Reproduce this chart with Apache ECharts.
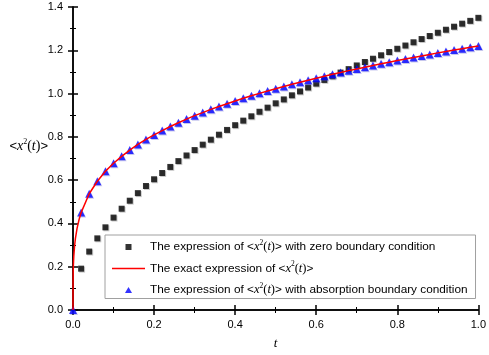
<!DOCTYPE html>
<html>
<head>
<meta charset="utf-8">
<script src="https://cdn.jsdelivr.net/npm/echarts@6/dist/echarts.min.js"></script>
<style>
  html, body { margin: 0; padding: 0; background: #fff; }
  #chart { width: 489px; height: 355px; }
</style>
</head>
<body>
<div id="chart"></div>
<script>
// t values of the markers
var tMarks = [0.02, 0.04, 0.06, 0.08, 0.10, 0.12, 0.14, 0.16, 0.18, 0.20,
  0.22, 0.24, 0.26, 0.28, 0.30, 0.32, 0.34, 0.36, 0.38, 0.40,
  0.42, 0.44, 0.46, 0.48, 0.50, 0.52, 0.54, 0.56, 0.58, 0.60,
  0.62, 0.64, 0.66, 0.68, 0.70, 0.72, 0.74, 0.76, 0.78, 0.80,
  0.82, 0.84, 0.86, 0.88, 0.90, 0.92, 0.94, 0.96, 0.98, 1.00];

// zero boundary condition (black squares)
var zeroVals = [0.191, 0.270, 0.331, 0.382, 0.427, 0.468, 0.505, 0.540, 0.573, 0.604,
  0.633, 0.661, 0.688, 0.714, 0.739, 0.764, 0.787, 0.810, 0.832, 0.854,
  0.875, 0.895, 0.916, 0.935, 0.955, 0.973, 0.992, 1.010, 1.028, 1.046,
  1.063, 1.080, 1.097, 1.113, 1.130, 1.146, 1.161, 1.177, 1.192, 1.207,
  1.222, 1.237, 1.252, 1.266, 1.281, 1.295, 1.309, 1.323, 1.336, 1.350];

// absorption boundary condition (blue triangles)
var absorbVals = [0.450, 0.537, 0.595, 0.641, 0.678, 0.710, 0.739, 0.765, 0.788, 0.809,
  0.829, 0.848, 0.865, 0.882, 0.898, 0.912, 0.927, 0.940, 0.953, 0.966,
  0.978, 0.990, 1.001, 1.012, 1.022, 1.033, 1.043, 1.052, 1.062, 1.071,
  1.080, 1.089, 1.097, 1.106, 1.114, 1.122, 1.130, 1.138, 1.145, 1.153,
  1.160, 1.167, 1.174, 1.181, 1.188, 1.194, 1.201, 1.207, 1.214, 1.220];

// exact expression (red line), extra points near t = 0
var tExactHead = [0, 0.0001, 0.0005, 0.001, 0.002, 0.004, 0.006, 0.01, 0.015];
var exactHead = [0, 0.117, 0.176, 0.210, 0.250, 0.298, 0.331, 0.377, 0.418];

var nameZero = 'zero';
var nameExact = 'exact';
var nameAbsorb = 'absorb';

var legendText = {
  zero: '{n|The expression of <}{i|x}{s|2}{p|(}{i|t}{p|)}{n|> with zero boundary condition}',
  exact: '{n|The exact expression of <}{i|x}{s|2}{p|(}{i|t}{p|)}{n|>}',
  absorb: '{n|The expression of <}{i|x}{s|2}{p|(}{i|t}{p|)}{n|> with absorption boundary condition}'
};

var zeroData = tMarks.map(function (t, i) { return [t, zeroVals[i]]; });
var absorbData = [[0, 0]].concat(tMarks.map(function (t, i) { return [t, absorbVals[i]]; }));
var exactData = tExactHead.map(function (t, i) { return [t, exactHead[i]]; })
  .concat(tMarks.map(function (t, i) { return [t, absorbVals[i]]; }));

var richText = {
  n: { fontFamily: 'Liberation Sans', fontSize: 11.8, color: '#000' },
  i: { fontFamily: 'Liberation Serif', fontStyle: 'italic', fontSize: 12.5, color: '#000' },
  p: { fontFamily: 'Liberation Serif', fontSize: 12.5, color: '#000' },
  s: { fontFamily: 'Liberation Serif', fontSize: 7.5, color: '#000', padding: [0, 0, 8, 0] }
};
var richName = {
  n: { fontFamily: 'Liberation Sans', fontSize: 13, color: '#000' },
  i: { fontFamily: 'Liberation Serif', fontStyle: 'italic', fontSize: 14, color: '#000' },
  p: { fontFamily: 'Liberation Serif', fontSize: 14, color: '#000' },
  s: { fontFamily: 'Liberation Serif', fontSize: 8, color: '#000', padding: [0, 0, 9, 0] }
};

var chart = echarts.init(document.getElementById('chart'));

var axisLineStyle = { color: '#000', width: 1.5 };

var option = {
  animation: false,
  backgroundColor: '#fff',
  grid: { left: 73, right: 7, top: 7, bottom: 44 },
  legend: {
    orient: 'vertical',
    left: 105,
    top: 235,
    padding: [4, 8, 2, 7],
    itemWidth: 33,
    itemHeight: 6,
    itemGap: 7,
    borderColor: '#a0a0a0',
    borderWidth: 1,
    backgroundColor: '#fff',
    symbolKeepAspect: true,
    data: [
      { name: nameZero, icon: 'path://M0,0L10,0L10,10L0,10Z', itemStyle: { color: '#000', shadowBlur: 0, shadowOffsetX: 0, shadowOffsetY: 0 } },
      { name: nameExact, icon: 'path://M0,0L66,0L66,3L0,3Z', itemStyle: { color: '#ff0000' } },
      { name: nameAbsorb, icon: 'path://M5,0L10,8.5L0,8.5Z', itemStyle: { color: '#0000ff', shadowBlur: 0, shadowOffsetX: 0, shadowOffsetY: 0 } }
    ],
    formatter: function (name) { return legendText[name]; },
    textStyle: { rich: richText }
  },
  xAxis: [{
    type: 'value',
    min: 0, max: 1, interval: 0.2,
    name: 't',
    nameLocation: 'middle',
    nameGap: 27,
    nameMoveOverlap: false,
    nameTextStyle: { fontFamily: 'Liberation Serif', fontStyle: 'italic', fontSize: 13, color: '#000' },
    axisLine: { lineStyle: axisLineStyle },
    axisTick: { inside: true, length: 5, lineStyle: { color: '#000', width: 1.5 } },
    minorTick: { show: true, splitNumber: 2, length: 3, lineStyle: { color: '#000', width: 1 } },
    splitLine: { show: false },
    axisLabel: { margin: 9, fontFamily: 'Liberation Sans', fontSize: 11, color: '#000',
      formatter: function (v) { return v.toFixed(1); } }
  }, {
    type: 'value',
    position: 'top',
    min: 0, max: 1, interval: 0.2,
    axisLine: { lineStyle: axisLineStyle },
    axisTick: { inside: true, length: 5, lineStyle: { color: '#000', width: 1.5 } },
    minorTick: { show: true, splitNumber: 2, length: 3, lineStyle: { color: '#000', width: 1 } },
    splitLine: { show: false },
    axisLabel: { show: false }
  }],
  yAxis: [{
    type: 'value',
    min: 0, max: 1.4, interval: 0.2,
    name: '{n|<}{i|x}{s|2}{p|(}{i|t}{p|)}{n|>}',
    nameLocation: 'middle',
    nameRotate: 0,
    nameGap: 25,
    nameMoveOverlap: false,
    nameTextStyle: { padding: [0, 0, 24, 0], rich: richName },
    axisLine: { lineStyle: axisLineStyle },
    axisTick: { inside: true, length: 5, lineStyle: { color: '#000', width: 1.5 } },
    minorTick: { show: true, splitNumber: 2, length: 3, lineStyle: { color: '#000', width: 1 } },
    splitLine: { show: false },
    axisLabel: { margin: 10, fontFamily: 'Liberation Sans', fontSize: 11, color: '#000',
      formatter: function (v) { return v.toFixed(1); } }
  }, {
    type: 'value',
    position: 'right',
    min: 0, max: 1.4, interval: 0.2,
    axisLine: { lineStyle: axisLineStyle },
    axisTick: { inside: true, length: 5, lineStyle: { color: '#000', width: 1.5 } },
    minorTick: { show: true, splitNumber: 2, length: 3, lineStyle: { color: '#000', width: 1 } },
    splitLine: { show: false },
    axisLabel: { show: false }
  }],
  series: [{
    name: nameZero,
    type: 'scatter',
    symbol: 'rect',
    symbolSize: 6,
    data: zeroData,
    itemStyle: { color: '#000', shadowColor: 'rgba(0,0,0,0.25)', shadowBlur: 0, shadowOffsetX: 1, shadowOffsetY: 1 }
  }, {
    name: nameExact,
    type: 'line',
    symbol: 'none',
    data: exactData,
    lineStyle: { color: '#ff0000', width: 1.5 },
    itemStyle: { color: '#ff0000' }
  }, {
    name: nameAbsorb,
    type: 'scatter',
    symbol: 'triangle',
    symbolSize: 8,
    data: absorbData,
    itemStyle: { color: '#0000ff', shadowColor: 'rgba(80,80,200,0.4)', shadowBlur: 0, shadowOffsetX: 1, shadowOffsetY: 1 }
  }]
};

chart.setOption(option);
</script>
</body>
</html>
